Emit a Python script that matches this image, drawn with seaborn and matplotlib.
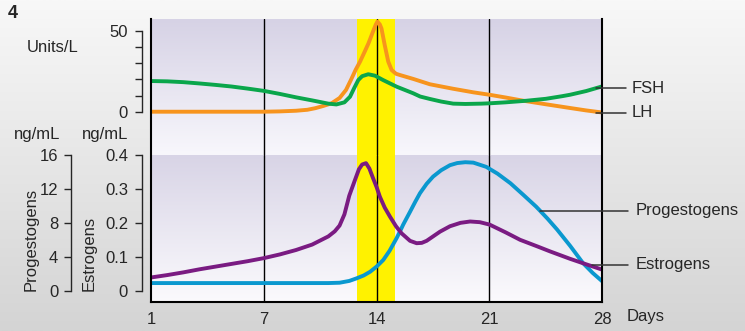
import numpy as np
import matplotlib
matplotlib.use("Agg")
import matplotlib.pyplot as plt
from matplotlib.colors import LinearSegmentedColormap
from matplotlib.lines import Line2D
import seaborn as sns

# ---- data -------------------------------------------------------------
# cycle position 0 is labelled "day 1"
day_ticks = [0, 7, 14, 21, 28]
day_labels = ["1", "7", "14", "21", "28"]
ovulation_window = (12.8, 15.14)
reference_days = [7, 14, 21]

fsh_days = [0, 1, 2, 3, 4, 5, 6, 7, 8, 9, 10, 10.5, 11, 11.5, 12, 12.35, 12.6,
            12.86, 13.1, 13.48, 13.9, 14.4, 15.24, 16.27, 16.7, 17.3, 18,
            18.75, 19.5, 20.5, 21, 22, 23.3, 24.5, 25.5, 26, 27, 28]
fsh_units = [19.0, 18.8, 18.3, 17.5, 16.6, 15.6, 14.3, 12.9, 11.0, 8.9, 7.0,
             6.0, 5.0, 4.5, 5.8, 9.3, 14.5, 19.6, 22.0, 23.2, 22.3, 19.6, 15.5,
             11.4, 9.4, 7.9, 6.3, 5.0, 4.8, 5.0, 5.2, 5.8, 6.8, 8.0, 9.6,
             10.5, 12.8, 15.7]

lh_days = [0, 2, 4, 6, 7, 8, 9, 9.7, 10.2, 10.7, 11.2, 11.7, 12.1, 12.4, 12.7,
           12.97, 13.25, 13.5, 13.75, 13.95, 14.05, 14.2, 14.3, 14.5, 14.72,
           14.93, 15.2, 15.45, 16.27, 17.3, 18.75, 20, 21, 22, 23.1, 24.5,
           26, 27, 28]
lh_units = [0, 0, 0, 0, 0, 0.2, 0.6, 1.2, 2.2, 3.6, 5.2, 8.5, 13.5, 19.6, 26,
            31, 37, 42.5, 49, 54, 55.8, 54, 51.5, 41.3, 31, 25.8, 23.5, 22.7,
            20.3, 17.0, 14.2, 12.0, 10.5, 8.8, 6.8, 4.6, 2.3, 0.8, -0.5]

estrogen_days = [0, 1, 2, 3, 4, 5, 6, 7, 8, 9, 10, 10.5, 11, 11.4, 11.7, 12,
                 12.3, 12.66, 12.9, 13.1, 13.34, 13.55, 13.75, 14, 14.2, 14.5,
                 14.83, 15.2, 15.55, 16.07, 16.48, 16.8, 17.1, 17.5, 17.93,
                 18.55, 19.2, 19.8, 20.4, 21, 22, 22.9, 24, 24.75, 26, 26.8, 28]
estrogen_ngml = [0.039, 0.046, 0.054, 0.063, 0.071, 0.079, 0.087, 0.096,
                 0.107, 0.120, 0.136, 0.148, 0.160, 0.175, 0.192, 0.225,
                 0.280, 0.327, 0.358, 0.372, 0.376, 0.360, 0.335, 0.305,
                 0.277, 0.245, 0.218, 0.190, 0.169, 0.147, 0.140, 0.141,
                 0.147, 0.160, 0.174, 0.190, 0.200, 0.204, 0.202, 0.195,
                 0.172, 0.150, 0.130, 0.116, 0.094, 0.081, 0.062]

progestogen_days = [0, 2, 4, 6, 8, 10, 11, 11.7, 12.3, 12.76, 13.2, 13.6, 14,
                    14.41, 14.8, 15.24, 15.45, 15.65, 16.07, 16.4, 16.69,
                    17.1, 17.5, 18, 18.55, 19, 19.5, 20, 20.8, 21.5, 22.3,
                    23.1, 23.9, 24.6, 25.2, 26, 26.8, 27.4, 28]
progestogen_ngml = [0.9, 0.9, 0.9, 0.9, 0.9, 0.9, 0.9, 0.94, 1.15, 1.46, 1.8,
                    2.24, 2.85, 3.62, 4.7, 6.2, 7.0, 7.8, 9.3, 10.5, 11.5,
                    12.6, 13.45, 14.2, 14.8, 15.05, 15.15, 15.1, 14.6, 13.8,
                    12.67, 11.3, 9.9, 8.5, 7.2, 5.3, 3.26, 2.1, 1.1]

# ---- style ------------------------------------------------------------
sns.set_style("white")
plt.rcParams["font.family"] = ["Liberation Sans", "DejaVu Sans"]
plt.rcParams["font.size"] = 12

C_FSH = "#0aa64b"
C_LH = "#f7941d"
C_EST = "#7a1b82"
C_PROG = "#0a98cf"
C_BAND = "#fff200"
LW = 2.8

W, H = 745, 331


def rect(x0, y0, x1, y1):
    """Axes rectangle from pixel corners (origin top-left)."""
    return [x0 / W, 1 - y1 / H, (x1 - x0) / W, (y1 - y0) / H]


def pt(px):
    return px * 72 / 100


fig = plt.figure(figsize=(W / 100, H / 100), dpi=100)

# soft grey page background
bg = fig.add_axes([0, 0, 1, 1], zorder=-5)
page = LinearSegmentedColormap.from_list("page", ["#f8f8f8", "#d4d4d4"])
bg.imshow(np.linspace(0, 1, 256).reshape(-1, 1), cmap=page, aspect="auto",
          extent=[0, 1, 0, 1], origin="upper")
bg.set_axis_off()

lav_top = LinearSegmentedColormap.from_list("lt", ["#d6d2e5", "#f8f7fc"])
lav_bot = LinearSegmentedColormap.from_list("lb", ["#d8d4e6", "#fbfafd"])
grad = np.linspace(0, 1, 256).reshape(-1, 1)

X0, X1 = 151, 602.3
Y_TOP, Y_MID, Y_BOT = 19, 155, 302

# ---- gonadotropins panel ---------------------------------------------
ax_top = fig.add_axes(rect(X0, Y_TOP, X1, Y_MID))
top_lim = (-26.8, 57.4)
ax_top.imshow(grad, cmap=lav_top, aspect="auto", origin="upper",
              extent=[0, 28, top_lim[0], top_lim[1]], zorder=0)
ax_top.axvspan(*ovulation_window, color=C_BAND, lw=0, zorder=1)
for d in reference_days:
    ax_top.axvline(d, color="black", lw=1.0, zorder=2)
sns.lineplot(x=fsh_days, y=fsh_units, ax=ax_top, color=C_FSH, lw=LW, zorder=4)
sns.lineplot(x=lh_days, y=lh_units, ax=ax_top, color=C_LH, lw=LW, zorder=3)
ax_top.set_xlim(0, 28)
ax_top.set_ylim(*top_lim)
ax_top.set_xticks([])
ax_top.set_yticks([0, 10, 20, 30, 40, 50])
ax_top.set_yticklabels(["0", "", "", "", "", "50"])
for s in ["top", "right", "bottom"]:
    ax_top.spines[s].set_visible(False)
ax_top.spines["left"].set_position(("outward", pt(9)))
ax_top.spines["left"].set_bounds(0, 50)
ax_top.spines["left"].set_linewidth(1.0)
ax_top.tick_params(axis="y", direction="out", length=5, width=1.0,
                   labelsize=12, pad=5, left=True)
ax_top.set_xlabel("")
ax_top.set_ylabel("")

# ---- steroid panel ---------------------------------------------------
ax_bot = fig.add_axes(rect(X0, Y_MID, X1, Y_BOT))
prog_lim = (-1.333, 16)
est_lim = (-0.0333, 0.4)
ax_bot.imshow(grad, cmap=lav_bot, aspect="auto", origin="upper",
              extent=[0, 28, prog_lim[0], prog_lim[1]], zorder=0)
ax_bot.axvspan(*ovulation_window, color=C_BAND, lw=0, zorder=1)
for d in reference_days:
    ax_bot.axvline(d, color="black", lw=1.0, zorder=2)
sns.lineplot(x=progestogen_days, y=progestogen_ngml, ax=ax_bot,
             color=C_PROG, lw=LW, zorder=3)
ax_bot.set_xlim(0, 28)
ax_bot.set_ylim(*prog_lim)
ax_bot.set_yticks([0, 4, 8, 12, 16])
for s in ["top", "right", "bottom"]:
    ax_bot.spines[s].set_visible(False)
ax_bot.spines["left"].set_position(("outward", pt(80.3)))
ax_bot.spines["left"].set_bounds(0, 16)
ax_bot.spines["left"].set_linewidth(1.0)
ax_bot.tick_params(axis="y", direction="out", length=5, width=1.0,
                   labelsize=12, pad=4, left=True)
ax_bot.set_xticks(day_ticks)
ax_bot.set_xticklabels(day_labels)
ax_bot.tick_params(axis="x", length=0, labelsize=12, pad=7)
ax_bot.set_xlabel("")
ax_bot.set_ylabel("")

ax_est = ax_bot.twinx()
sns.lineplot(x=estrogen_days, y=estrogen_ngml, ax=ax_est, color=C_EST,
             lw=LW, zorder=3)
ax_est.set_xlim(0, 28)
ax_est.set_ylim(*est_lim)
ax_est.set_yticks([0, 0.1, 0.2, 0.3, 0.4])
ax_est.set_yticklabels(["0", "0.1", "0.2", "0.3", "0.4"])
ax_est.yaxis.set_ticks_position("left")
ax_est.yaxis.set_label_position("left")
for s in ["top", "right", "bottom"]:
    ax_est.spines[s].set_visible(False)
ax_est.spines["left"].set_visible(True)
ax_est.spines["left"].set_position(("outward", pt(9)))
ax_est.spines["left"].set_bounds(0, 0.4)
ax_est.spines["left"].set_linewidth(1.0)
ax_est.tick_params(axis="y", direction="out", length=5, width=1.0,
                   labelsize=12, pad=5, left=True, right=False,
                   labelleft=True, labelright=False)
ax_est.set_xlabel("")
ax_est.set_ylabel("")

# ---- outer frame -------------------------------------------------------
frame = fig.add_axes(rect(X0, Y_TOP, X1, Y_BOT), zorder=10)
frame.patch.set_visible(False)
frame.set_xticks([])
frame.set_yticks([])
frame.spines["top"].set_visible(False)
for s in ["left", "right", "bottom"]:
    frame.spines[s].set_linewidth(1.5)
    frame.spines[s].set_color("black")


# ---- text and label leaders -------------------------------------------
def ftext(x, y, s, **kw):
    fig.text(x / W, 1 - y / H, s, **kw)


def leader(x0, x1, y):
    fig.add_artist(Line2D([x0 / W, x1 / W], [1 - y / H, 1 - y / H],
                          color="#333333", lw=1.1, zorder=12))


ftext(8, 13, "4", fontsize=13, fontweight="bold", ha="left", va="center")
ftext(27, 47, "Units/L", fontsize=12, ha="left", va="center")
ftext(60, 134, "ng/mL", fontsize=12, ha="right", va="center")
ftext(128, 134, "ng/mL", fontsize=12, ha="right", va="center")
ftext(31, 291, "Progestogens", fontsize=12, rotation=90, ha="center",
      va="bottom")
ftext(89, 291, "Estrogens", fontsize=12, rotation=90, ha="center",
      va="bottom")
ftext(627, 316, "Days", fontsize=12, ha="left", va="center")

leader(596, 626, 88.3)
ftext(632, 88.3, "FSH", fontsize=12, ha="left", va="center")
leader(596, 626, 112.7)
ftext(632, 112.7, "LH", fontsize=12, ha="left", va="center")
leader(540, 628, 210.7)
ftext(636, 210.7, "Progestogens", fontsize=12, ha="left", va="center")
leader(592, 628, 265)
ftext(636, 265, "Estrogens", fontsize=12, ha="left", va="center")

fig.savefig("out.png", dpi=100)
